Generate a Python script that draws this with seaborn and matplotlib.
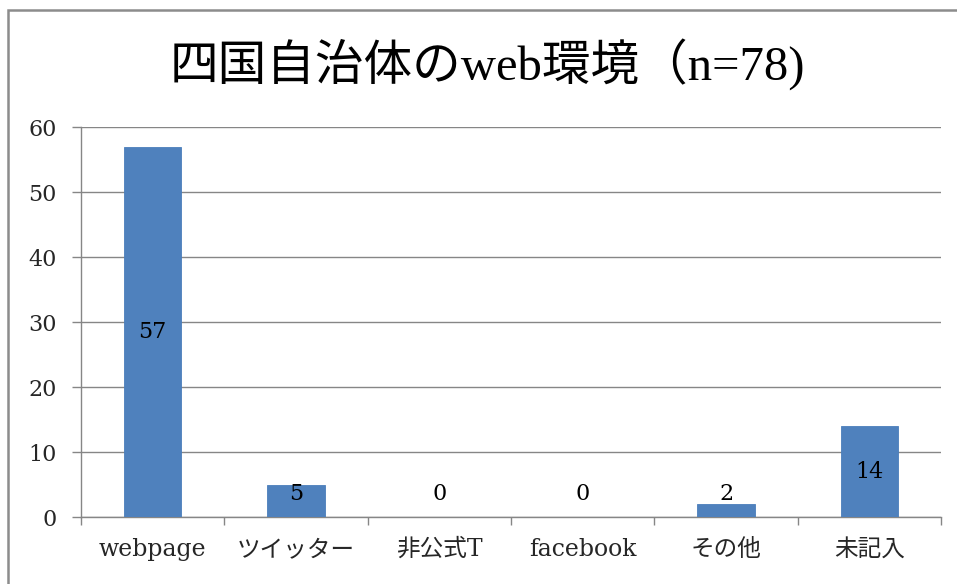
import matplotlib
matplotlib.use("Agg")
import matplotlib.pyplot as plt
import seaborn as sns
import pandas as pd
from matplotlib.patches import Rectangle

# データ
categories = ['webpage', 'ツイッター', '非公式T', 'facebook', 'その他', '未記入']
counts = [57, 5, 0, 0, 2, 14]
title = '四国自治体のweb環境（n=78)'

df = pd.DataFrame({'項目': categories, '件数': counts})

sns.set_style('white')
fonts = ['DejaVu Serif', 'Noto Sans CJK JP', 'DejaVu Sans']
plt.rcParams['font.family'] = fonts

fig = plt.figure(figsize=(9.57, 5.84), dpi=100)
ax = fig.add_axes([0.0846, 0.1147, 0.8987, 0.6678])

sns.barplot(data=df, x='項目', y='件数', color='#4F81BD', width=0.4,
            saturation=1, edgecolor='#4A7EBB', linewidth=0.6, ax=ax, zorder=3)

ax.set_ylim(0, 60)
ax.set_xlim(-0.5, len(categories) - 0.5)
ax.set_yticks(range(0, 61, 10))
ax.yaxis.grid(True, color='#868686', linewidth=1.0, zorder=0)
ax.set_xlabel('')
ax.set_ylabel('')

for s in ['top', 'right']:
    ax.spines[s].set_visible(False)
for s in ['left', 'bottom']:
    ax.spines[s].set_color('#868686')
    ax.spines[s].set_linewidth(1.0)

ax.tick_params(axis='y', direction='out', length=6.5, width=1.0, color='#868686',
               pad=11, labelsize=16, left=True)
ax.tick_params(axis='x', length=0, pad=15, labelsize=17)
# カテゴリ境界の目盛り
ax.set_xticks([i + 0.5 for i in range(-1, len(categories))], minor=True)
ax.tick_params(axis='x', which='minor', direction='out', length=6, width=1.0,
               color='#868686', bottom=True)

# 値ラベル
for i, v in enumerate(counts):
    ax.text(i, max(v / 2, 3.6), str(v), ha='center', va='center',
            fontsize=16, color='black', zorder=4)

fig.text(0.509, 0.888, title, ha='center', va='center', fontsize=35,
         color='black',
         family=['Liberation Serif', 'Noto Sans CJK JP', 'DejaVu Sans'])

# グラフ枠
fig.patches.append(Rectangle((8 / 957, -0.1), 1.2, 1 - 10 / 584 + 0.1,
                             transform=fig.transFigure, fill=False,
                             edgecolor='#8C8C8C', linewidth=1.8))

fig.savefig('out.png', dpi=100)
